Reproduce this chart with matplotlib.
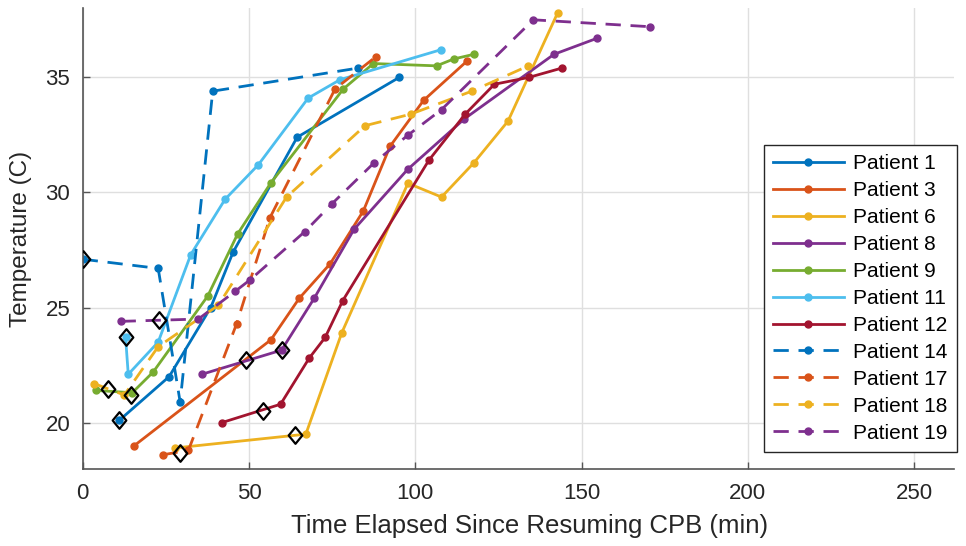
import matplotlib
matplotlib.use("Agg")
import matplotlib.pyplot as plt
from matplotlib.path import Path

plt.rcParams['font.family'] = ['Liberation Sans', 'DejaVu Sans']

# ---- data ----
p1_t = [11, 26, 38.5, 45.2, 64.5, 95.2]
p1_T = [20.1, 22.0, 25.0, 27.4, 32.4, 35.0]

p3_t = [15.5, 56.6, 65.1, 74.4, 84.4, 92.4, 102.5, 115.5]
p3_T = [19.0, 23.6, 25.4, 26.9, 29.2, 32.0, 34.0, 35.7]

p6_t = [27.8, 67.1, 77.9, 97.8, 107.9, 117.7, 127.9, 142.8]
p6_T = [18.9, 19.5, 23.9, 30.4, 29.8, 31.3, 33.1, 37.8]

p8_t = [35.8, 59.8, 69.6, 81.6, 97.7, 114.8, 141.7, 154.7]
p8_T = [22.1, 23.15, 25.4, 28.4, 31.0, 33.2, 36.0, 36.7]

p9_t = [3.9, 14.9, 21.2, 37.6, 46.6, 56.5, 78.4, 87.4, 106.4, 111.6, 117.6]
p9_T = [21.4, 21.3, 22.2, 25.5, 28.2, 30.4, 34.5, 35.6, 35.5, 35.8, 36.0]

p11_t = [12.9, 13.7, 22.7, 32.5, 42.8, 52.8, 67.8, 77.4, 107.7]
p11_T = [23.7, 22.1, 23.5, 27.3, 29.7, 31.2, 34.1, 34.9, 36.2]

p12_t = [41.8, 59.5, 68.1, 72.9, 78.2, 104.1, 115.0, 123.8, 134.2, 144.0]
p12_T = [20.0, 20.8, 22.8, 23.7, 25.3, 31.4, 33.4, 34.7, 35.0, 35.4]

p14_t = [0, 22.7, 29.3, 39.1, 82.7]
p14_T = [27.1, 26.7, 20.9, 34.4, 35.4]

p17_t = [24.0, 31.8, 46.3, 56.3, 75.9, 88.2]
p17_T = [18.6, 18.8, 24.3, 28.9, 34.5, 35.9]

p18_t = [3.4, 12.5, 22.7, 40.8, 61.3, 84.9, 98.6, 117.0, 134.0]
p18_T = [21.7, 21.2, 23.3, 25.1, 29.8, 32.9, 33.4, 34.4, 35.5]

p19_t = [11.4, 34.8, 45.8, 50.3, 66.8, 74.9, 87.7, 97.9, 107.9, 135.5, 170.6]
p19_T = [24.4, 24.5, 25.7, 26.2, 28.3, 29.5, 31.3, 32.5, 33.6, 37.5, 37.2]

event_t = [11.0, 49.1, 63.8, 60.0, 14.4, 12.9, 54.3, 0.0, 29.3, 7.7, 23.0]
event_T = [20.1, 22.7, 19.45, 23.15, 21.2, 23.7, 20.5, 27.1, 18.7, 21.45, 24.45]

labels = ["Patient 1", "Patient 3", "Patient 6", "Patient 8", "Patient 9",
          "Patient 11", "Patient 12", "Patient 14", "Patient 17",
          "Patient 18", "Patient 19"]
xticks = [0, 50, 100, 150, 200, 250]
yticks = [20, 25, 30, 35]

series = [(p1_t, p1_T), (p3_t, p3_T), (p6_t, p6_T), (p8_t, p8_T), (p9_t, p9_T),
          (p11_t, p11_T), (p12_t, p12_T), (p14_t, p14_T), (p17_t, p17_T),
          (p18_t, p18_T), (p19_t, p19_T)]
colors = ['#0072BD', '#D95319', '#EDB120', '#7E2F8E', '#77AC30', '#4DBEEE',
          '#A2142F', '#0072BD', '#D95319', '#EDB120', '#7E2F8E']
styles = ['-'] * 7 + ['--'] * 4

fig = plt.figure(figsize=(9.66, 5.46), dpi=100)
ax = fig.add_axes([0.0856, 0.1416, 0.902, 0.8432])

for (t, T), c, ls, lab in zip(series, colors, styles, labels):
    kw = {}
    if ls == '--':
        kw['dashes'] = (5.5, 3.5)
    ax.plot(t, T, color=c, lw=2.0, marker='o', ms=5.0, label=lab, **kw)

diamond = Path([(0, 1), (0.82, 0), (0, -1), (-0.82, 0), (0, 1)],
               [Path.MOVETO, Path.LINETO, Path.LINETO, Path.LINETO, Path.CLOSEPOLY])
ax.plot(event_t, event_T, linestyle='none', marker=diamond, ms=12,
        mfc='none', mec='black', mew=1.6, zorder=5)

ax.set_xlim(0, 262)
ax.set_ylim(18, 38)
ax.set_xticks(xticks)
ax.set_yticks(yticks)
ax.grid(True, color='#dfdfdf', lw=1.0)
ax.set_axisbelow(True)
for s in ['top', 'right']:
    ax.spines[s].set_visible(False)
for s in ['left', 'bottom']:
    ax.spines[s].set_color('#555555')
    ax.spines[s].set_linewidth(1.2)
ax.tick_params(direction='in', length=5, width=1, colors='#555555',
               labelcolor='#262626', labelsize=16)
ax.tick_params(axis='x', pad=10)
ax.tick_params(axis='y', pad=9)
ax.set_xlabel('Time Elapsed Since Resuming CPB (min)', fontsize=18.5,
              color='#262626')
ax.xaxis.set_label_coords(0.513, -0.098)
ax.set_ylabel('Temperature (C)', fontsize=17.5, color='#262626', labelpad=10)

leg = ax.legend(loc='upper right', bbox_to_anchor=(957 / 966, 1 - 145 / 546),
                bbox_transform=fig.transFigure, fontsize=15, handlelength=3.4,
                labelspacing=0.38, fancybox=False, framealpha=1,
                edgecolor='#262626', borderpad=0.45, handletextpad=0.45,
                borderaxespad=0)
leg.get_frame().set_linewidth(1.0)

fig.savefig('out.png', dpi=100)
